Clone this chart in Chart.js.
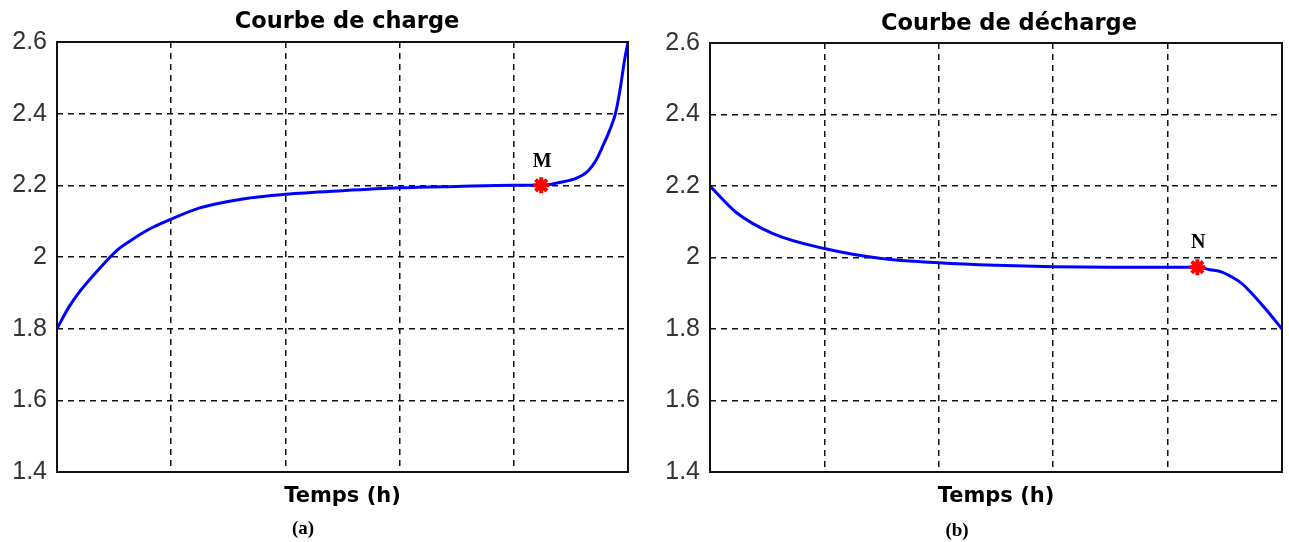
<!DOCTYPE html>
<html lang="fr">
<head>
<meta charset="UTF-8">
<title>Courbes de charge et décharge</title>
<script src="https://cdn.jsdelivr.net/npm/chart.js"></script>
<style>
  body { margin: 0; background: #fff; width: 1289px; height: 542px; overflow: hidden; position: relative; }
  .box { position: absolute; top: 0; }
</style>
</head>
<body>
<div class="box" style="left:0"><canvas id="chargeChart" width="645" height="542"></canvas></div>
<div class="box" style="left:645px"><canvas id="dechargeChart" width="649" height="542"></canvas></div>
<script>
// Courbe de charge (a)
const chargeTime = [0, 0.1, 0.19, 0.35, 0.53, 0.65, 0.81, 0.96, 1.25, 1.69, 2.0, 2.5, 3.0, 3.5, 4.0, 4.24, 4.4, 4.55, 4.65, 4.72, 4.78, 4.84, 4.89, 4.93, 4.97, 5.0];
const chargeVolt = [1.8, 1.858, 1.9, 1.96, 2.02, 2.047, 2.078, 2.1, 2.137, 2.165, 2.175, 2.185, 2.193, 2.197, 2.2, 2.2, 2.208, 2.22, 2.24, 2.27, 2.31, 2.354, 2.40, 2.466, 2.55, 2.6];
const pointM = [4.24, 2.2];

// Courbe de décharge (b)
const dechargeTime = [0, 0.23, 0.55, 1.0, 1.5, 2.0, 2.5, 3.0, 3.5, 4.0, 4.26, 4.37, 4.47, 4.57, 4.65, 4.72, 4.8, 4.87, 5.0];
const dechargeVolt = [2.2, 2.126, 2.067, 2.025, 1.997, 1.985, 1.978, 1.974, 1.973, 1.973, 1.973, 1.966, 1.96, 1.944, 1.927, 1.905, 1.877, 1.851, 1.8];
const pointN = [4.26, 1.973];

const yTicks = [1.4, 1.6, 1.8, 2.0, 2.2, 2.4, 2.6];
const xTicks = [0, 1, 2, 3, 4, 5];

function toPoints(xs, ys) {
  return xs.map((x, i) => ({ x: x, y: ys[i] }));
}

// box around plot area + text labels
const framePlugin = {
  id: 'frame',
  afterDraw(chart, args, opts) {
    const ctx = chart.ctx;
    const a = chart.chartArea;
    ctx.save();
    ctx.strokeStyle = '#111';
    ctx.lineWidth = 2;
    ctx.strokeRect(a.left, a.top, a.right - a.left, a.bottom - a.top);

    ctx.fillStyle = '#000';
    ctx.textAlign = 'center';
    ctx.textBaseline = 'middle';
    ctx.font = 'bold 22.5px "DejaVu Sans"';
    ctx.fillText(opts.title, opts.titleX, opts.titleY);

    ctx.font = 'bold 19px "Liberation Serif"';
    ctx.fillText(opts.sub, opts.subX, opts.subY);

    const px = chart.scales.x.getPixelForValue(opts.mark[0]);
    const py = chart.scales.y.getPixelForValue(opts.mark[1]);
    ctx.font = 'bold 20px "Liberation Serif"';
    ctx.fillText(opts.markLabel, px + 1, py - 24);
    ctx.restore();
  }
};

function makeChart(id, xs, ys, mark, axisWidth, padRight, padTop, frame) {
  return new Chart(document.getElementById(id), {
    type: 'line',
    data: {
      datasets: [
        {
          data: [{ x: mark[0], y: mark[1] }],
          showLine: false,
          pointStyle: 'star',
          pointRadius: 8,
          borderWidth: 4,
          borderColor: '#ff0000',
          backgroundColor: '#ff0000'
        },
        {
          data: toPoints(xs, ys),
          borderColor: '#0000ff',
          borderWidth: 3,
          pointRadius: 0,
          fill: false,
          cubicInterpolationMode: 'monotone'
        }
      ]
    },
    options: {
      responsive: false,
      animation: false,
      layout: { padding: { left: 0, right: padRight, top: padTop, bottom: 0 } },
      plugins: {
        legend: { display: false },
        tooltip: { enabled: false },
        frame: frame
      },
      scales: {
        x: {
          type: 'linear',
          min: 0,
          max: 5,
          afterBuildTicks: s => { s.ticks = xTicks.map(v => ({ value: v })); },
          ticks: { display: false },
          grid: { color: '#111', lineWidth: 1.5, drawTicks: false },
          border: { display: false, dash: [6, 5] },
          title: {
            display: true,
            text: 'Temps (h)',
            color: '#000',
            font: { family: 'DejaVu Sans', size: 21, weight: 'bold' },
            padding: { top: 0, bottom: 33 }
          },
          afterFit: s => { s.height = 70; }
        },
        y: {
          min: 1.4,
          max: 2.6,
          afterBuildTicks: s => { s.ticks = yTicks.map(v => ({ value: v })); },
          ticks: {
            color: '#333',
            padding: 10,
            font: { family: 'Liberation Sans', size: 25 },
            callback: v => String(Math.round(v * 10) / 10)
          },
          grid: { color: '#111', lineWidth: 1.5, drawTicks: false },
          border: { display: false, dash: [6, 5] },
          afterFit: s => { s.width = axisWidth; }
        }
      }
    },
    plugins: [framePlugin]
  });
}

makeChart('chargeChart', chargeTime, chargeVolt, pointM, 57, 17, 42, {
  title: 'Courbe de charge', titleX: 347, titleY: 22,
  sub: '(a)', subX: 303, subY: 529,
  mark: pointM, markLabel: 'M'
});
makeChart('dechargeChart', dechargeTime, dechargeVolt, pointN, 65, 2, 43, {
  title: 'Courbe de décharge', titleX: 364, titleY: 24,
  sub: '(b)', subX: 312, subY: 531,
  mark: pointN, markLabel: 'N'
});
</script>
</body>
</html>
